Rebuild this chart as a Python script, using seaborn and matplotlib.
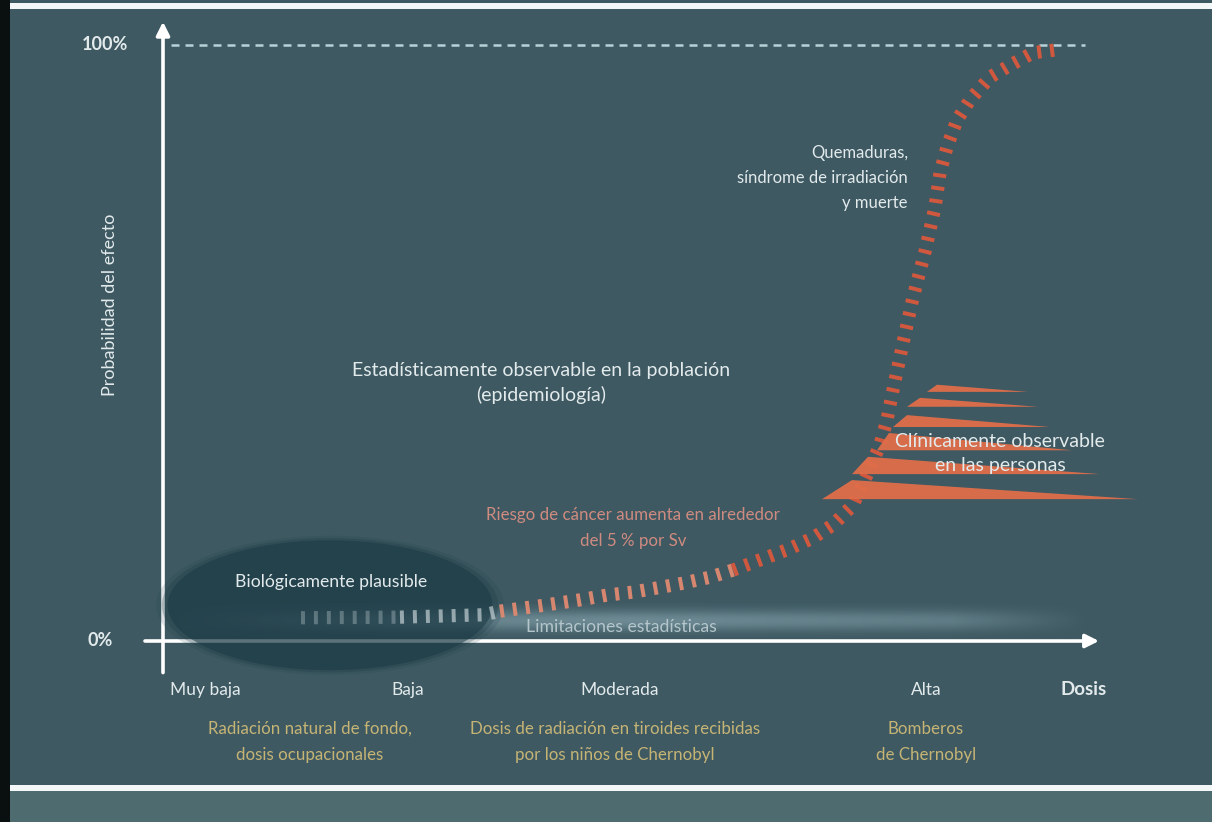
import matplotlib
matplotlib.use("Agg")
import matplotlib.pyplot as plt
import numpy as np
import pandas as pd
import seaborn as sns
from matplotlib.patches import Ellipse, Rectangle, Polygon

# Dose-response curve: dose in arbitrary units, probability of the effect in %
curve_dose = [1.38, 2.37, 3.21, 3.37, 3.77, 4.17, 4.44, 4.70, 4.94, 5.20, 5.47,
              5.70, 5.97, 6.24, 6.50, 6.70, 6.90, 7.04, 7.17, 7.24, 7.30, 7.40,
              7.50, 7.62, 7.72, 7.77, 7.84, 7.94, 8.07, 8.27, 8.47, 8.70, 8.94]
curve_prob = [3.9, 4.0, 4.4, 5.0, 5.9, 6.9, 7.7, 8.2, 8.9, 9.7, 10.7,
              11.9, 13.6, 15.3, 17.3, 19.5, 22.8, 27.9, 32.9, 37.1, 42.1, 50.0,
              57.6, 65.3, 72.8, 78.5, 82.9, 87.4, 90.8, 94.6, 96.6, 98.7, 99.2]

# Tone changes along the curve
plausible_limit = 3.37     # end of the "biologically plausible" zone
risk_limit = 5.70          # end of the moderate-risk stretch

# Dose categories along the horizontal axis
dose_levels = ["Muy baja", "Baja", "Moderada", "Alta"]
dose_level_pos = [0.42, 2.45, 4.57, 7.63]
exposure_examples = ["Radiación natural de fondo,\ndosis ocupacionales",
                     "Dosis de radiación en tiroides recibidas\npor los niños de Chernobyl",
                     "Bomberos\nde Chernobyl"]
exposure_pos = [1.47, 4.52, 7.63]

# Vertical scale labels
prob_ticks = [0, 100]
prob_tick_labels = ["0%", "100%"]

# Clinically observable zone: tapering bands (left edge, top-left corner, tip)
band_base_prob = [41.8, 39.3, 35.9, 32.0, 28.0, 23.8]
band_top_prob = [43.0, 40.8, 37.9, 34.9, 30.9, 27.0]
band_left_dose = [7.64, 7.44, 7.30, 7.14, 6.89, 6.59]
band_corner_dose = [7.74, 7.57, 7.44, 7.26, 7.05, 6.89]
band_tip_dose = [8.65, 8.75, 8.87, 9.09, 9.37, 9.75]

BG = "#3e5962"
LOWER_BG = "#4e6c70"
TXT = "#e2eaec"
TAN = "#c6b475"
PINK = "#cf8b80"
ORANGE = "#d9583c"
SALMON = "#e08a70"
GREY_TICK = "#c3cfd3"
WEDGE = "#e06e4a"

sns.set_style("dark")
plt.rcParams["font.family"] = ["Lato", "DejaVu Sans"]

fig = plt.figure(figsize=(12.12, 8.22), dpi=100)
fig.patch.set_facecolor(BG)

ax = fig.add_axes([0, 0, 1, 1])

# frame decoration: lighter footer, white rules, black strip on the left
fig.add_artist(Rectangle((0, 0), 1, 0.0378, transform=fig.transFigure,
                         facecolor=LOWER_BG, edgecolor="none", zorder=0))
fig.add_artist(Rectangle((0, 0), 0.0083, 1, transform=fig.transFigure,
                         facecolor="#0a0f10", edgecolor="none", zorder=1))
fig.add_artist(Rectangle((0.0083, 0.9893), 1, 0.0075, transform=fig.transFigure,
                         facecolor="#f4f7f7", edgecolor="none", zorder=1))
fig.add_artist(Rectangle((0.0083, 0.0375), 1, 0.0075, transform=fig.transFigure,
                         facecolor="#f4f7f7", edgecolor="none", zorder=1))

# soft band of "statistical limitations" just above the dose axis
nx, ny = 400, 60
xs = np.linspace(0, 1, nx)
ys = np.linspace(-1, 1, ny)
h_alpha = np.interp(xs, [0.0, 0.25, 0.5, 0.85, 1.0], [0.0, 0.40, 0.50, 0.35, 0.0])
v_alpha = np.exp(-(ys / 0.6) ** 2)
rgba = np.zeros((ny, nx, 4))
rgba[..., 0] = 0.62
rgba[..., 1] = 0.74
rgba[..., 2] = 0.78
rgba[..., 3] = v_alpha[:, None] * h_alpha[None, :]
ax.imshow(rgba, extent=(0.07, 9.27, 0.5, 6.3), origin="lower",
          aspect="auto", interpolation="bilinear", zorder=1)

# axes with arrow heads
ax.annotate("", xy=(0, 103.9), xytext=(0, -5.3),
            arrowprops=dict(arrowstyle="-|>", color="white", lw=2.6,
                            mutation_scale=20, shrinkA=0, shrinkB=0), zorder=2)
ax.annotate("", xy=(9.36, 0), xytext=(-0.18, 0),
            arrowprops=dict(arrowstyle="-|>", color="white", lw=2.6,
                            mutation_scale=20, shrinkA=0, shrinkB=0), zorder=2)
ax.hlines(100, 0.08, 9.22, colors="#b8d2d9", linestyles=(0, (3.2, 2.4)),
          lw=1.8, zorder=2)

# biologically plausible zone
for scale, alpha in [(1.07, 0.15), (1.035, 0.25), (1.0, 0.55)]:
    ax.add_patch(Ellipse((1.67, 6.0), 3.25 * scale, 21.8 * scale,
                         facecolor="#1b3a45", edgecolor="none", alpha=alpha,
                         zorder=3))

# dose-response curve, drawn as short thick ticks
curve = pd.DataFrame({"dose": curve_dose, "prob": curve_prob})
tick_style = dict(lw=9.5, linestyle=(0, (0.3, 0.68)), dash_capstyle="butt",
                  estimator=None, sort=False, legend=False, zorder=4)
segments = [
    (curve[curve.dose <= 2.37], GREY_TICK, 0.35),
    (curve[(curve.dose >= 2.37) & (curve.dose <= plausible_limit)], GREY_TICK, 0.7),
    (curve[(curve.dose >= plausible_limit) & (curve.dose <= risk_limit)], SALMON, 0.95),
    (curve[curve.dose >= risk_limit], ORANGE, 0.95),
]
for seg, col, a in segments:
    sns.lineplot(data=seg, x="dose", y="prob", ax=ax, color=col, alpha=a,
                 **tick_style)
ax.set_xlim(-1.63, 10.49)
ax.set_ylim(-30.37, 107.55)
ax.set_axis_off()

# clinically observable bands
for b0, b1, xl, xc, xt in zip(band_base_prob, band_top_prob, band_left_dose,
                              band_corner_dose, band_tip_dose):
    ax.add_patch(Polygon([(xl, b0), (xc, b1), (xt, b0)], closed=True,
                         facecolor=WEDGE, edgecolor="none", alpha=0.95,
                         zorder=5))

# probability labels
ax.text(-0.58, prob_ticks[1], prob_tick_labels[1], color=TXT, fontsize=13,
        fontweight="bold", ha="center", va="center", zorder=6)
ax.text(-0.63, prob_ticks[0], prob_tick_labels[0], color=TXT, fontsize=13,
        fontweight="bold", ha="center", va="center", zorder=6)
ax.text(-0.53, 56.4, "Probabilidad del efecto", color=TXT, fontsize=13,
        rotation=90, ha="center", va="center", zorder=6)

# dose labels
for name, pos in zip(dose_levels, dose_level_pos):
    ax.text(pos, -8.2, name, color=TXT, fontsize=12.5, ha="center",
            va="center", zorder=6)
ax.text(9.21, -8.2, "Dosis", color=TXT, fontsize=13.5, fontweight="bold",
        ha="center", va="center", zorder=6)
for text, pos in zip(exposure_examples, exposure_pos):
    ax.text(pos, -16.9, text, color=TAN, fontsize=12.2, ha="center",
            va="center", linespacing=1.75, zorder=6)

# annotations inside the plot
ax.text(3.78, 43.3, "Estadísticamente observable en la población\n(epidemiología)",
        color=TXT, fontsize=14, ha="center", va="center", linespacing=1.46,
        zorder=6)
ax.text(7.45, 77.7, "Quemaduras,\nsíndrome de irradiación\ny muerte",
        color=TXT, fontsize=12, ha="right", va="center", linespacing=1.7,
        zorder=6)
ax.text(8.37, 31.4, "Clínicamente observable\nen las personas", color=TXT,
        fontsize=14, ha="center", va="center", linespacing=1.5, zorder=6)
ax.text(4.70, 19.0, "Riesgo de cáncer aumenta en alrededor\ndel 5 % por Sv",
        color=PINK, fontsize=12.2, ha="center", va="center", linespacing=1.75,
        zorder=6)
ax.text(1.68, 9.9, "Biológicamente plausible", color=TXT, fontsize=12.7,
        ha="center", va="center", zorder=6)
ax.text(4.58, 2.4, "Limitaciones estadísticas", color="#b4c6cc", fontsize=12.7,
        ha="center", va="center", zorder=6)

fig.savefig("out.png", dpi=100, facecolor=fig.get_facecolor())
